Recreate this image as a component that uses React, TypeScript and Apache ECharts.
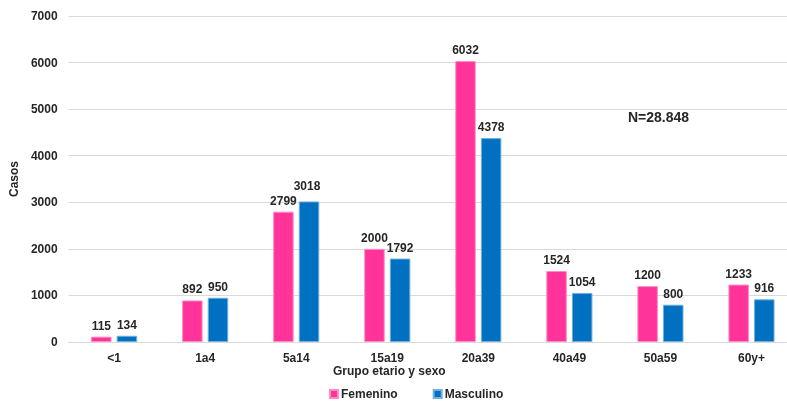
import React, { useEffect, useRef } from "react";
import * as echarts from "echarts";

const categories = ["<1", "1a4", "5a14", "15a19", "20a39", "40a49", "50a59", "60y+"];
const femenino = [115, 892, 2799, 2000, 6032, 1524, 1200, 1233];
const masculino = [134, 950, 3018, 1792, 4378, 1054, 800, 916];
const yTicks = { min: 0, max: 7000, interval: 1000 };
const note = "N=28.848";

const FONT = "'Liberation Sans', Arial, sans-serif";
const TXT = "#262626";

export default function App() {
  const ref = useRef<HTMLDivElement>(null);
  useEffect(() => {
    if (!ref.current) return;
    const chart = echarts.init(ref.current, null, { renderer: "svg" });
    const labelStyle = {
      show: true,
      position: "top" as const,
      distance: 5,
      color: TXT,
      fontFamily: FONT,
      fontWeight: "bold" as const,
      fontSize: 12,
    };
    chart.setOption({
      animation: false,
      textStyle: { fontFamily: FONT },
      grid: { left: 63, top: 16, width: 734, height: 326, containLabel: false },
      legend: {
        top: 388,
        left: 329,
        padding: 0,
        itemWidth: 8,
        itemHeight: 8,
        itemGap: 35,
        icon: "rect",
        textStyle: { color: TXT, fontFamily: FONT, fontWeight: "bold", fontSize: 12, padding: [0, 0, 0, -2] },
        data: ["Femenino", "Masculino"],
      },
      xAxis: {
        type: "category",
        data: categories,
        axisLine: { lineStyle: { color: "#d9d9d9" } },
        axisTick: { show: false },
        axisLabel: { color: TXT, fontFamily: FONT, fontWeight: "bold", fontSize: 12, margin: 10 },
      },
      yAxis: {
        type: "value",
        min: yTicks.min,
        max: yTicks.max,
        interval: yTicks.interval,
        name: "Casos",
        nameLocation: "middle",
        nameGap: 43,
        nameTextStyle: { color: TXT, fontFamily: FONT, fontWeight: "bold", fontSize: 12 },
        axisLine: { show: false },
        axisTick: { show: false },
        splitLine: { lineStyle: { color: "#d9d9d9" } },
        axisLabel: {
          color: TXT,
          fontFamily: FONT,
          fontWeight: "bold",
          fontSize: 12,
          margin: 11,
          formatter: (v: number) => String(v),
        },
      },
      graphic: [
        {
          type: "text",
          left: 389 - 56,
          top: 365,
          style: { text: "Grupo etario y sexo", fill: TXT, font: `bold 12px ${FONT}` },
        },
        {
          type: "text",
          left: 628,
          top: 110,
          style: { text: note, fill: TXT, font: `bold 14px ${FONT}` },
        },
      ],
      series: [
        {
          name: "Femenino",
          type: "bar",
          barWidth: 20.5,
          barGap: "25%",
          data: femenino,
          itemStyle: { color: "#FF3399", borderColor: "#ff8cc6", borderWidth: 1 },
          label: labelStyle,
        },
        {
          name: "Masculino",
          type: "bar",
          barWidth: 20.5,
          data: masculino.map((v, i) =>
            i === 2 ? { value: v, label: { offset: [-2, -4] } } : v
          ),
          itemStyle: { color: "#0070C0", borderColor: "#6fb0e0", borderWidth: 1 },
          label: labelStyle,
        },
      ],
    });
    return () => chart.dispose();
  }, []);
  return (
    <div
      ref={ref}
      style={{ position: "fixed", left: 0, top: 0, width: 800, height: 405 }}
    />
  );
}
